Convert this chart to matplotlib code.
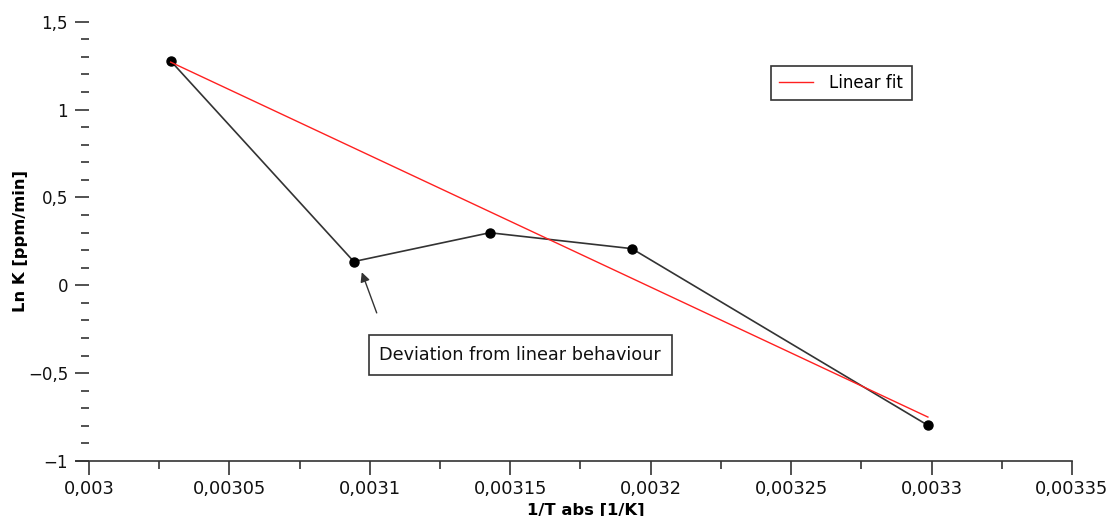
import matplotlib
matplotlib.use("Agg")
import matplotlib.pyplot as plt
import matplotlib.ticker as mticker
import numpy as np

# data
inv_T = [0.0030291, 0.0030943, 0.0031427, 0.0031933, 0.0032987]
ln_k = [1.277, 0.135, 0.299, 0.2085, -0.797]

fit_x = [0.0030291, 0.0032987]
fit_y = [1.27, -0.75]

note_text = "Deviation from linear behaviour"
note_tip = (0.0030968, 0.089)
note_tail = (0.0031028, -0.172)
note_pos = (0.0031536, -0.399)

default_fontsize = 12


def comma_fmt(v, pos):
	s = "{:g}".format(round(v, 8))
	return s.replace(".", ",").replace("-", "\u2212")


fig = plt.figure(figsize=(11.09, 5.16), dpi=100)
ax = fig.add_axes([76 / 1109, 55 / 516, (1072 - 76) / 1109, (461 - 21.7) / 516])

ax.plot(inv_T, ln_k, color="#333333", linewidth=1.2, marker="o",
	markersize=6.5, markerfacecolor="black", markeredgecolor="black", zorder=3)
ax.plot(fit_x, fit_y, color="#ff2020", linewidth=1.0, label="Linear fit", zorder=4)

ax.set_xlim(0.0029954, 0.00335)
ax.set_ylim(-1, 1.5)

ax.spines["top"].set_visible(False)
ax.spines["right"].set_visible(False)
ax.spines["left"].set_position(("data", 0.003))
ax.spines["left"].set_color("none")
ax.spines["bottom"].set_color("#333333")
ax.spines["bottom"].set_linewidth(1.2)

ax.xaxis.set_major_locator(mticker.MultipleLocator(0.00005))
ax.xaxis.set_minor_locator(mticker.MultipleLocator(0.000025))
ax.yaxis.set_major_locator(mticker.MultipleLocator(0.5))
ax.yaxis.set_minor_locator(mticker.MultipleLocator(0.1))
ax.xaxis.set_major_formatter(mticker.FuncFormatter(comma_fmt))
ax.yaxis.set_major_formatter(mticker.FuncFormatter(comma_fmt))

ax.tick_params(axis="both", which="major", direction="out", length=10, width=1.2,
	color="#333333", labelcolor="#111111")
ax.tick_params(axis="both", which="minor", direction="out", length=5.5, width=1.2,
	color="#333333")
ax.tick_params(axis="x", which="major", pad=4, labelsize=12.8)
ax.tick_params(axis="y", which="major", pad=5, labelsize=12)

ax.set_xlabel("1/T abs [1/K]", fontsize=11.8, fontweight="bold", labelpad=3)
ax.xaxis.label.set_x((586 - 76) / 996)
ax.set_ylabel("Ln K [ppm/min]", fontsize=11.8, fontweight="bold", labelpad=0)

ax.annotate("", xy=note_tip, xytext=note_tail,
	arrowprops=dict(arrowstyle="-|>", color="#333333", linewidth=1.0, mutation_scale=14))
ax.text(note_pos[0], note_pos[1], note_text, fontsize=12.7, ha="center", va="center",
	color="#111111",
	bbox=dict(boxstyle="square,pad=0.62", facecolor="white", edgecolor="#333333", linewidth=1.2))

leg = ax.legend(loc="upper left", bbox_to_anchor=(695 / 996, 1 - 44 / 439.3), fontsize=default_fontsize,
	fancybox=False, edgecolor="#333333", framealpha=1, handlelength=2.0, handletextpad=1.0,
	borderpad=0.5, borderaxespad=0)
leg.get_frame().set_linewidth(1.2)

fig.savefig("out.png", dpi=100)
